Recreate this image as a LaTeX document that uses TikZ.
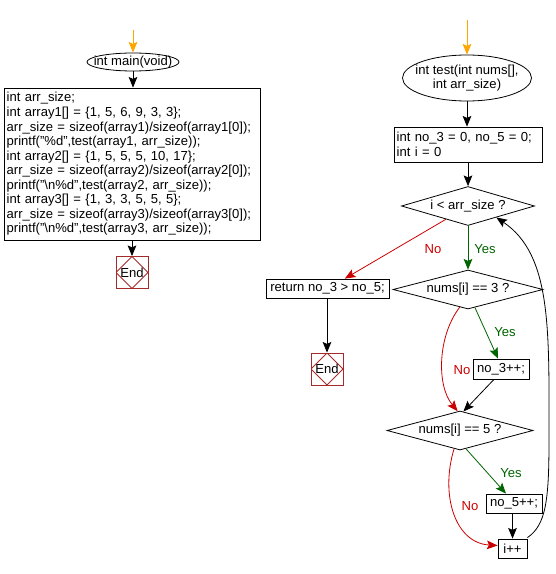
\documentclass[tikz,border=0pt]{standalone}
\usepackage{fontspec}
\setmainfont{Liberation Sans}
\usetikzlibrary{shapes.geometric,arrows.meta,calc}
\definecolor{gvorange}{RGB}{255,165,0}
\definecolor{gvgreen}{RGB}{0,100,0}
\definecolor{gvred}{RGB}{204,0,0}
\definecolor{gvbrown}{RGB}{165,42,42}
\begin{document}
\begin{tikzpicture}[x=0.75pt,y=-0.75pt,
  font=\fontsize{9.8}{10.9}\selectfont,
  every node/.style={inner sep=0pt},
  box/.style={draw, rectangle, line width=0.6pt},
  oval/.style={draw, ellipse, line width=0.6pt},
  ovaltext/.style={align=center},
  decision/.style={draw, diamond, line width=0.6pt, aspect=3.5},
  endbox/.style={draw=gvbrown, rectangle, line width=0.6pt, minimum width=24pt, minimum height=24pt,
    path picture={\draw[gvbrown, line width=0.6pt] (path picture bounding box.north) -- (path picture bounding box.east) -- (path picture bounding box.south) -- (path picture bounding box.west) -- cycle;}},
  flow/.style={line width=0.6pt, -{Stealth[length=8pt,width=6.5pt,inset=1.5pt]}},
  yesline/.style={flow, gvgreen},
  noline/.style={flow, gvred},
  startline/.style={flow, gvorange},
  yeslabel/.style={text=gvgreen},
  nolabel/.style={text=gvred}]
\path[use as bounding box] (0,0) rectangle (556,574);

% ---- main ----
\coordinate (mainstart) at (133,30);
\node[oval, minimum width=69pt, minimum height=13.5pt] (main) at (133,62) {};
\node[ovaltext] (maintext) at (main.center) {int main(void)};
\node[box, minimum width=192pt, minimum height=114pt, align=left, text width=188pt] (body) at (132,164)
{int arr\_size;\\
int array1[] = \{1, 5, 6, 9, 3, 3\};\\
arr\_size = sizeof(array1)/sizeof(array1[0]);\\
printf("\%d",test(array1, arr\_size));\\
int array2[] = \{1, 5, 5, 5, 10, 17\};\\
arr\_size = sizeof(array2)/sizeof(array2[0]);\\
printf("\textbackslash n\%d",test(array2, arr\_size));\\
int array3[] = \{1, 3, 3, 5, 5, 5\};\\
arr\_size = sizeof(array3)/sizeof(array3[0]);\\
printf("\textbackslash n\%d",test(array3, arr\_size));};
\node[endbox] (end1) at (132,272.5) {End};

\draw[startline] (mainstart) -- (main.north);
\draw[flow] (main.south) -- (body.north -| main.south);
\draw[flow] (body.south -| end1.north) -- (end1.north);

% ---- test ----
\coordinate (teststart) at (467,20);
\node[oval, minimum width=96.75pt, minimum height=34.5pt] (test) at (467,78) {};
\node[ovaltext] (testtext) at (test.center) {int test(int nums[],\\int arr\_size)};
\node[box, minimum width=111pt, minimum height=26.25pt, align=left, text width=107pt] (init) at (468,144.5)
{int no\_3 = 0, no\_5 = 0;\\int i = 0};
\node[decision, minimum width=99.75pt, minimum height=29.25pt] (d1) at (468,206) {i < arr\_size ?};
\node[box, minimum width=92.25pt, minimum height=14.25pt] (ret) at (327.5,288.5) {return no\_3 > no\_5;};
\node[endbox] (end2) at (327,369) {End};
\node[decision, minimum width=112.5pt, minimum height=29.25pt] (d3) at (468,289.5) {nums[i] == 3 ?};
\node[box, minimum width=42pt, minimum height=15pt] (n3) at (501,369) {no\_3++;};
\node[decision, minimum width=109.5pt, minimum height=29.25pt] (d5) at (460,430.5) {nums[i] == 5 ?};
\node[box, minimum width=42pt, minimum height=14.25pt] (n5) at (514,503.5) {no\_5++;};
\node[box, minimum width=21.75pt, minimum height=14.25pt] (ipp) at (512.5,548.5) {i++};

\draw[startline] (teststart) -- (test.north);
\draw[flow] (test.south) -- (init.north -| test.south);
\draw[flow] (init.south -| d1.north) -- (d1.north);
\draw[yesline] (d1.south) -- (d3.north);
\node[yeslabel] (y1) at (485,249) {Yes};
\draw[noline] (d1.211) -- ($(ret.north west)!0.64!(ret.north east)$);
\node[nolabel] (no1) at (433,249) {No};
\draw[flow] (ret.south -| end2.north) -- (end2.north);

\draw[yesline] (d3.-69) -- ($(n3.north)+(-3,0)$);
\node[yeslabel] (y3) at (505,332) {Yes};
\draw[noline] (d3.-115) .. controls (438,335) and (436,385) .. (d5.97);
\node[nolabel] (no3) at (462,370) {No};
\draw[flow] ($(n3.south)+(-7,0)$) -- (d5.80);

\draw[yesline] (d5.-72) -- ($(n5.north)+(-8,0)$);
\node[yeslabel] (y5) at (511,473) {Yes};
\draw[noline] (d5.-108) .. controls (440,495) and (455,543) .. ($(ipp.west)+(0,-3)$);
\node[nolabel] (no5) at (470,506) {No};
\draw[flow] (n5.south -| ipp.north) -- (ipp.north);

\draw[flow] ($(ipp.north east)+(0,-1)$) .. controls (546,525) and (549,500) .. (549,440)
  .. controls (549,330) and (552,255) .. (d1.-22);
\end{tikzpicture}
\end{document}
